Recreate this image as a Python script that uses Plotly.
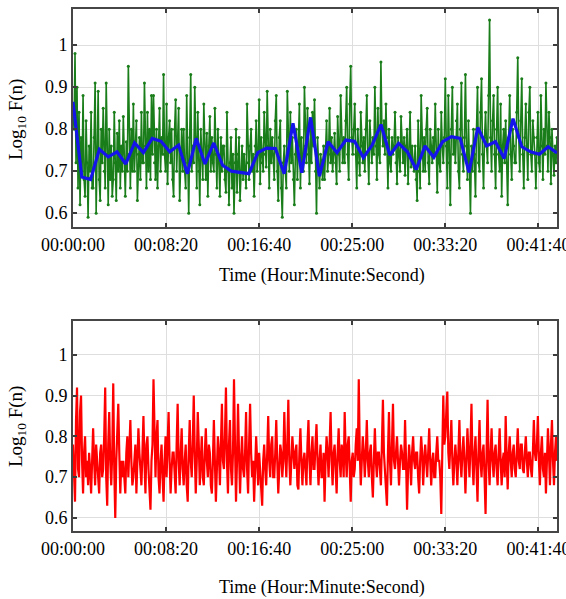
import numpy as np
import plotly.graph_objects as go

# ---------------- data ----------------
T_END = 2600  # seconds shown on the x axis

green_vals = [
    0.86, 0.80, 0.98, 0.72, 0.90, 0.66, 0.84, 0.62, 0.78, 0.70,
    0.88, 0.68, 0.64, 0.82, 0.72, 0.59, 0.76, 0.70, 0.84, 0.66,
    0.66, 0.78, 0.91, 0.60, 0.74, 0.89, 0.68, 0.63, 0.80, 0.72,
    0.85, 0.70, 0.66, 0.91, 0.74, 0.62, 0.80, 0.68, 0.76, 0.64,
    0.68, 0.84, 0.72, 0.63, 0.79, 0.70, 0.82, 0.66, 0.76, 0.70,
    0.83, 0.72, 0.64, 0.77, 0.70, 0.95, 0.74, 0.66, 0.80, 0.70,
    0.86, 0.70, 0.76, 0.82, 0.63, 0.74, 0.78, 0.68, 0.84, 0.72,
    0.72, 0.91, 0.76, 0.66, 0.84, 0.70, 0.80, 0.68, 0.88, 0.74,
    0.88, 0.72, 0.68, 0.80, 0.66, 0.76, 0.85, 0.70, 0.78, 0.74,
    0.93, 0.74, 0.70, 0.86, 0.67, 0.78, 0.82, 0.72, 0.80, 0.68,
    0.64, 0.80, 0.87, 0.70, 0.76, 0.85, 0.63, 0.74, 0.80, 0.70,
    0.80, 0.70, 0.66, 0.88, 0.72, 0.60, 0.78, 0.93, 0.70, 0.76,
    0.72, 0.90, 0.78, 0.66, 0.84, 0.70, 0.62, 0.80, 0.74, 0.68,
    0.86, 0.72, 0.68, 0.79, 0.64, 0.76, 0.83, 0.70, 0.78, 0.72,
    0.70, 0.85, 0.74, 0.66, 0.80, 0.72, 0.64, 0.78, 0.70, 0.76,
    0.76, 0.68, 0.65, 0.84, 0.70, 0.62, 0.72, 0.78, 0.66, 0.74,
    0.60, 0.72, 0.80, 0.65, 0.74, 0.78, 0.63, 0.70, 0.76, 0.68,
    0.74, 0.70, 0.66, 0.86, 0.72, 0.68, 0.76, 0.80, 0.70, 0.74,
    0.64, 0.76, 0.82, 0.70, 0.74, 0.87, 0.67, 0.78, 0.72, 0.70,
    0.84, 0.74, 0.71, 0.89, 0.76, 0.66, 0.80, 0.72, 0.78, 0.74,
    0.68, 0.82, 0.88, 0.70, 0.63, 0.78, 0.82, 0.66, 0.59, 0.72,
    0.76, 0.70, 0.66, 0.89, 0.74, 0.70, 0.84, 0.72, 0.78, 0.68,
    0.62, 0.74, 0.80, 0.68, 0.76, 0.86, 0.66, 0.78, 0.72, 0.70,
    0.90, 0.76, 0.72, 0.85, 0.74, 0.67, 0.80, 0.72, 0.84, 0.76,
    0.87, 0.70, 0.60, 0.78, 0.70, 0.66, 0.74, 0.72, 0.68, 0.76,
    0.68, 0.76, 0.82, 0.70, 0.74, 0.85, 0.72, 0.78, 0.70, 0.74,
    0.79, 0.72, 0.67, 0.83, 0.74, 0.70, 0.88, 0.76, 0.72, 0.78,
    0.72, 0.82, 0.90, 0.74, 0.68, 0.86, 0.95, 0.78, 0.74, 0.80,
    0.86, 0.74, 0.66, 0.80, 0.72, 0.69, 0.84, 0.76, 0.72, 0.78,
    0.70, 0.80, 0.88, 0.74, 0.67, 0.82, 0.76, 0.72, 0.78, 0.74,
    0.90, 0.76, 0.68, 0.85, 0.74, 0.72, 0.96, 0.80, 0.76, 0.82,
    0.74, 0.86, 0.78, 0.66, 0.80, 0.72, 0.70, 0.78, 0.74, 0.76,
    0.84, 0.72, 0.67, 0.78, 0.74, 0.70, 0.83, 0.76, 0.72, 0.78,
    0.69, 0.76, 0.80, 0.67, 0.74, 0.84, 0.71, 0.76, 0.72, 0.70,
    0.76, 0.68, 0.63, 0.82, 0.70, 0.66, 0.88, 0.74, 0.70, 0.78,
    0.70, 0.80, 0.85, 0.72, 0.67, 0.80, 0.76, 0.72, 0.78, 0.74,
    0.86, 0.74, 0.65, 0.80, 0.72, 0.70, 0.84, 0.76, 0.72, 0.78,
    0.92, 0.76, 0.66, 0.88, 0.72, 0.62, 0.80, 0.90, 0.74, 0.78,
    0.72, 0.82, 0.86, 0.70, 0.66, 0.80, 0.91, 0.74, 0.70, 0.78,
    0.93, 0.76, 0.68, 0.82, 0.72, 0.60, 0.76, 0.70, 0.80, 0.74,
    0.64, 0.80, 0.90, 0.72, 0.70, 0.84, 0.92, 0.74, 0.66, 0.78,
    0.84, 0.76, 0.72, 0.88, 1.06, 0.78, 0.70, 0.82, 0.88, 0.74,
    0.66, 0.80, 0.90, 0.74, 0.70, 0.86, 0.64, 0.76, 0.80, 0.72,
    0.82, 0.72, 0.62, 0.78, 0.88, 0.74, 0.68, 0.80, 0.76, 0.72,
    0.72, 0.84, 0.97, 0.78, 0.70, 0.82, 0.92, 0.74, 0.66, 0.78,
    0.86, 0.76, 0.68, 0.84, 0.90, 0.74, 0.70, 0.82, 0.78, 0.74,
    0.66, 0.78, 0.84, 0.72, 0.70, 0.88, 0.76, 0.68, 0.80, 0.74,
    0.91, 0.76, 0.70, 0.84, 0.78, 0.67, 0.80, 0.74, 0.69, 0.76, 0.72, 0.78,
]

blue_vals = [
    0.865, 0.686, 0.680, 0.752, 0.734, 0.746, 0.717, 0.767, 0.744, 0.778,
    0.771, 0.746, 0.762, 0.694, 0.778, 0.717, 0.767, 0.714, 0.700, 0.697,
    0.694, 0.744, 0.755, 0.754, 0.694, 0.814, 0.696, 0.828, 0.688, 0.770,
    0.744, 0.774, 0.771, 0.732, 0.762, 0.811, 0.738, 0.766, 0.746, 0.704,
    0.760, 0.733, 0.770, 0.782, 0.778, 0.697, 0.804, 0.760, 0.770, 0.730,
    0.825, 0.758, 0.746, 0.740, 0.758, 0.743,
]

red_vals = [
    0.78, 0.70, 0.64, 0.84, 0.92, 0.72, 0.70, 0.86, 0.90, 0.74,
    0.66, 0.76, 0.80, 0.70, 0.74, 0.68, 0.76, 0.72, 0.66, 0.74,
    0.82, 0.74, 0.68, 0.78, 0.74, 0.70, 0.66, 0.76, 0.78, 0.70,
    0.72, 0.80, 0.92, 0.70, 0.63, 0.78, 0.86, 0.74, 0.68, 0.76,
    0.93, 0.72, 0.60, 0.74, 0.82, 0.88, 0.76, 0.66, 0.74, 0.70,
    0.74, 0.68, 0.66, 0.76, 0.80, 0.70, 0.76, 0.84, 0.74, 0.68,
    0.70, 0.76, 0.78, 0.66, 0.74, 0.82, 0.76, 0.72, 0.68, 0.76,
    0.85, 0.74, 0.66, 0.78, 0.80, 0.72, 0.68, 0.62, 0.74, 0.78,
    0.94, 0.76, 0.70, 0.80, 0.84, 0.70, 0.66, 0.74, 0.78, 0.70,
    0.64, 0.74, 0.80, 0.70, 0.76, 0.86, 0.74, 0.66, 0.72, 0.76,
    0.76, 0.70, 0.66, 0.78, 0.88, 0.74, 0.68, 0.76, 0.82, 0.72,
    0.68, 0.74, 0.78, 0.68, 0.64, 0.76, 0.84, 0.74, 0.70, 0.78,
    0.90, 0.76, 0.66, 0.74, 0.86, 0.78, 0.68, 0.74, 0.80, 0.70,
    0.68, 0.76, 0.82, 0.74, 0.70, 0.78, 0.76, 0.68, 0.66, 0.74,
    0.84, 0.74, 0.64, 0.72, 0.80, 0.76, 0.68, 0.78, 0.88, 0.74,
    0.72, 0.80, 0.92, 0.74, 0.66, 0.78, 0.84, 0.72, 0.68, 0.76,
    0.94, 0.78, 0.64, 0.74, 0.88, 0.76, 0.66, 0.74, 0.80, 0.72,
    0.70, 0.76, 0.86, 0.72, 0.66, 0.78, 0.88, 0.76, 0.70, 0.74,
    0.64, 0.72, 0.80, 0.74, 0.68, 0.76, 0.72, 0.66, 0.63, 0.74,
    0.78, 0.72, 0.68, 0.76, 0.85, 0.74, 0.70, 0.78, 0.80, 0.70,
    0.70, 0.76, 0.84, 0.74, 0.66, 0.72, 0.78, 0.76, 0.70, 0.74,
    0.86, 0.76, 0.70, 0.78, 0.89, 0.74, 0.68, 0.74, 0.80, 0.76,
    0.72, 0.76, 0.78, 0.68, 0.67, 0.76, 0.82, 0.74, 0.68, 0.74,
    0.76, 0.72, 0.68, 0.78, 0.84, 0.74, 0.68, 0.76, 0.80, 0.72,
    0.72, 0.78, 0.83, 0.74, 0.68, 0.74, 0.78, 0.70, 0.70, 0.76,
    0.64, 0.74, 0.80, 0.76, 0.70, 0.78, 0.86, 0.74, 0.68, 0.76,
    0.78, 0.72, 0.66, 0.76, 0.82, 0.74, 0.70, 0.78, 0.76, 0.70,
    0.86, 0.76, 0.70, 0.78, 0.80, 0.72, 0.64, 0.74, 0.76, 0.70,
    0.72, 0.78, 0.82, 0.74, 0.94, 0.76, 0.68, 0.74, 0.80, 0.76,
    0.70, 0.76, 0.84, 0.74, 0.70, 0.76, 0.78, 0.70, 0.65, 0.74,
    0.82, 0.74, 0.70, 0.76, 0.76, 0.72, 0.68, 0.78, 0.89, 0.76,
    0.72, 0.70, 0.63, 0.76, 0.86, 0.74, 0.68, 0.78, 0.88, 0.74,
    0.72, 0.76, 0.80, 0.74, 0.68, 0.74, 0.78, 0.76, 0.72, 0.72,
    0.84, 0.74, 0.62, 0.72, 0.78, 0.74, 0.68, 0.76, 0.80, 0.74,
    0.72, 0.76, 0.76, 0.70, 0.66, 0.74, 0.80, 0.76, 0.68, 0.74,
    0.78, 0.74, 0.70, 0.76, 0.82, 0.74, 0.68, 0.74, 0.76, 0.70,
    0.70, 0.76, 0.80, 0.74, 0.74, 0.70, 0.61, 0.76, 0.90, 0.78,
    0.80, 0.86, 0.91, 0.76, 0.72, 0.78, 0.84, 0.74, 0.68, 0.74,
    0.78, 0.74, 0.68, 0.76, 0.84, 0.74, 0.70, 0.76, 0.80, 0.74,
    0.66, 0.74, 0.82, 0.76, 0.70, 0.78, 0.88, 0.74, 0.68, 0.76,
    0.80, 0.72, 0.64, 0.76, 0.84, 0.74, 0.70, 0.76, 0.78, 0.70,
    0.61, 0.76, 0.89, 0.74, 0.68, 0.76, 0.82, 0.74, 0.70, 0.76,
    0.78, 0.72, 0.68, 0.76, 0.82, 0.74, 0.68, 0.74, 0.76, 0.70,
    0.85, 0.74, 0.67, 0.76, 0.80, 0.74, 0.70, 0.76, 0.78, 0.72,
    0.70, 0.76, 0.82, 0.74, 0.72, 0.78, 0.78, 0.72, 0.71, 0.76,
    0.80, 0.74, 0.70, 0.76, 0.76, 0.72, 0.70, 0.76, 0.84, 0.76,
    0.74, 0.78, 0.85, 0.74, 0.68, 0.76, 0.80, 0.72, 0.70, 0.76,
    0.66, 0.74, 0.82, 0.76, 0.68, 0.78, 0.84, 0.74, 0.68, 0.76, 0.80, 0.74,
]

x_tickvals = [0, 500, 1000, 1500, 2000, 2500]
x_ticktext = ["00:00:00", "00:08:20", "00:16:40", "00:25:00", "00:33:20", "00:41:40"]
y_tickvals = [0.6, 0.7, 0.8, 0.9, 1.0]
y_ticktext = ["0.6", "0.7", "0.8", "0.9", "1"]

x_title = "Time (Hour:Minute:Second)"
y_title = "Log<sub>10</sub> F(n)"

# time stamps: samples spread evenly over the recording
t_green = np.linspace(0, T_END, len(green_vals))
t_blue = np.linspace(0, T_END, len(blue_vals))
t_red = np.linspace(0, T_END, len(red_vals))

# ---------------- figure ----------------
W, H = 566, 599
FONT = "Liberation Serif"

fig = go.Figure()
fig.add_trace(go.Scatter(
    x=t_green, y=green_vals, mode="lines+markers",
    line=dict(color="rgb(25,125,25)", width=1.6),
    marker=dict(color="rgb(25,125,25)", size=3),
    xaxis="x", yaxis="y", showlegend=False))
fig.add_trace(go.Scatter(
    x=t_blue, y=blue_vals, mode="lines",
    line=dict(color="rgb(20,20,235)", width=3.2),
    xaxis="x", yaxis="y", showlegend=False))
fig.add_trace(go.Scatter(
    x=t_red, y=red_vals, mode="lines",
    line=dict(color="rgb(255,0,0)", width=2.2),
    xaxis="x2", yaxis="y2", showlegend=False))

def px_x(p):
    return p / W

def px_y(p):
    return 1 - p / H

xdom = [px_x(73), px_x(557)]
common_x = dict(
    range=[0, T_END], tickvals=x_tickvals, ticktext=x_ticktext,
    showgrid=True, gridcolor="rgb(222,222,222)", gridwidth=1,
    ticks="inside", ticklen=4, tickwidth=2, tickcolor="rgb(60,60,60)",
    showline=True, linecolor="rgb(70,70,70)", linewidth=2, mirror="allticks",
    zeroline=False, automargin=False, ticklabeloverflow="allow",
    tickfont=dict(family=FONT, size=18, color="black"),
)
common_y = dict(
    tickvals=y_tickvals, ticktext=y_ticktext,
    showgrid=True, gridcolor="rgb(222,222,222)", gridwidth=1,
    ticks="inside", ticklen=4, tickwidth=2, tickcolor="rgb(60,60,60)",
    showline=True, linecolor="rgb(70,70,70)", linewidth=2, mirror="allticks",
    zeroline=False, automargin=False, ticklabeloverflow="allow",
    tickfont=dict(family=FONT, size=18, color="black"),
)

fig.update_layout(
    width=W, height=H,
    margin=dict(l=0, r=0, t=0, b=0),
    paper_bgcolor="white", plot_bgcolor="white",
    font=dict(family=FONT, color="black"),
    xaxis=dict(domain=xdom, anchor="y", **common_x),
    yaxis=dict(domain=[px_y(227), px_y(9)], range=[0.567, 1.086], anchor="x", **common_y),
    xaxis2=dict(domain=xdom, anchor="y2", **common_x),
    yaxis2=dict(domain=[px_y(531), px_y(321)], range=[0.568, 1.083], anchor="x2", **common_y),
    annotations=[
        dict(text=x_title, x=px_x(322), y=px_y(276), xref="paper", yref="paper",
             showarrow=False, font=dict(family=FONT, size=18), xanchor="center", yanchor="middle"),
        dict(text=x_title, x=px_x(322), y=px_y(587), xref="paper", yref="paper",
             showarrow=False, font=dict(family=FONT, size=18), xanchor="center", yanchor="middle"),
        dict(text=y_title, x=px_x(17), y=px_y(120), xref="paper", yref="paper", textangle=-90,
             showarrow=False, font=dict(family=FONT, size=19), xanchor="center", yanchor="middle"),
        dict(text=y_title, x=px_x(17), y=px_y(427), xref="paper", yref="paper", textangle=-90,
             showarrow=False, font=dict(family=FONT, size=19), xanchor="center", yanchor="middle"),
    ],
)

fig.write_html("out.html")
